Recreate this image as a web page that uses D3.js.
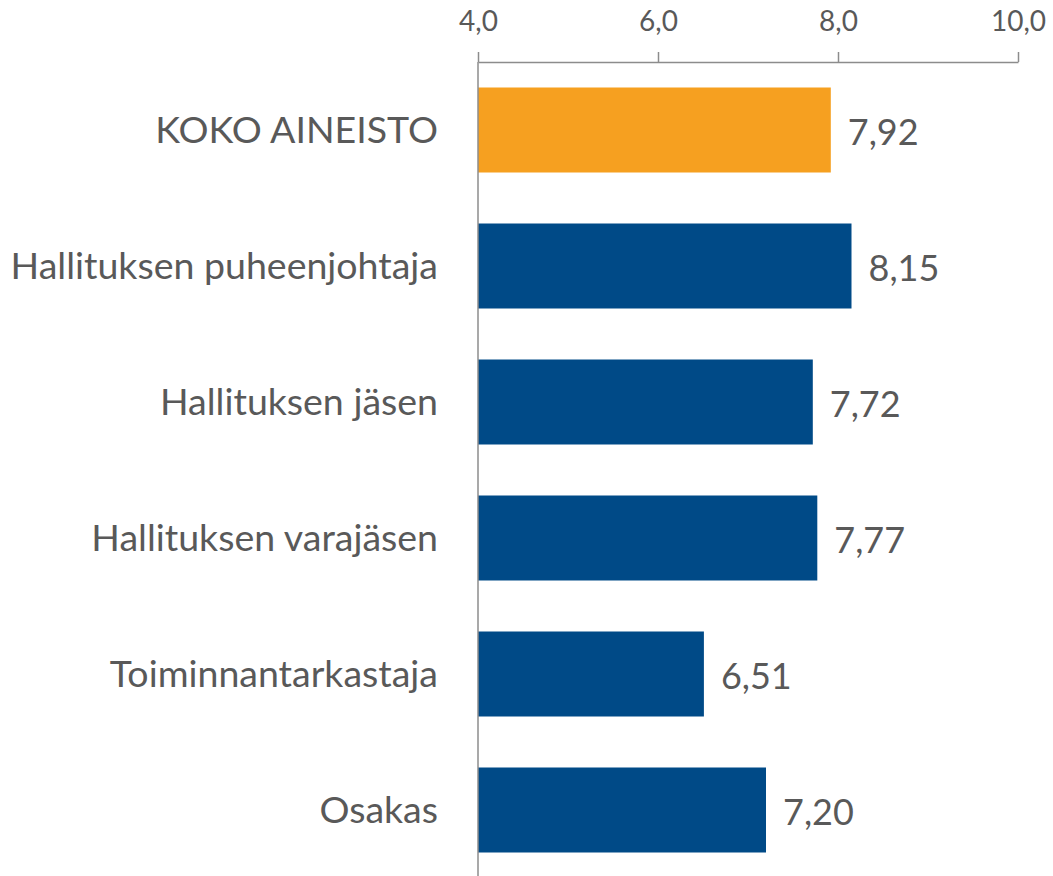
<!DOCTYPE html>
<html>
<head>
<meta charset="utf-8">
<script src="https://cdn.jsdelivr.net/npm/d3@7"></script>
<style>
  body { margin: 0; background: #fff; }
  text { font-family: Lato, "Open Sans", sans-serif; fill: #595959; }
</style>
</head>
<body>
<div id="chart"></div>
<script>
// Data
const categories = [
    "KOKO AINEISTO",
    "Hallituksen puheenjohtaja",
    "Hallituksen jäsen",
    "Hallituksen varajäsen",
    "Toiminnantarkastaja",
    "Osakas"
];
const values = [7.92, 8.15, 7.72, 7.77, 6.51, 7.20];
const xTicks = [4, 6, 8, 10];

const width = 1053;
const height = 876;

const svg = d3.select("#chart")
    .append("svg")
    .attr("width", width)
    .attr("height", height);

const fmt = d => d3.format(".1f")(d).replace(".", ",");
const fmt2 = d => d3.format(".2f")(d).replace(".", ",");

// Scales
const x = d3.scaleLinear()
    .domain([4, 10])
    .range([478, 1018]);

const y = d3.scaleBand()
    .domain(categories)
    .range([62, 878])
    .paddingInner(0.375)
    .paddingOuter(0.1875);

// Top axis
const axis = svg.append("g")
    .attr("transform", `translate(0,${y.range()[0]})`)
    .call(d3.axisTop(x)
        .tickValues(xTicks)
        .tickFormat(fmt)
        .tickSizeInner(10)
        .tickSizeOuter(0)
        .tickPadding(21));

axis.select(".domain").attr("stroke", "#8c8c8c").attr("stroke-width", 1.5);
axis.selectAll(".tick line").attr("stroke", "#8c8c8c").attr("stroke-width", 1.5);
axis.selectAll(".tick text")
    .attr("fill", "#595959")
    .style("font-size", "28px")
    .style("font-family", "Lato, 'Open Sans', sans-serif");

// Bars
svg.selectAll(".bar")
    .data(categories)
    .enter()
    .append("rect")
    .attr("class", "bar")
    .attr("x", x(4))
    .attr("y", d => y(d))
    .attr("width", (d, i) => x(values[i]) - x(4))
    .attr("height", y.bandwidth())
    .attr("fill", (d, i) => i === 0 ? "#f6a020" : "#004a87");

// Vertical axis line
svg.append("line")
    .attr("x1", x(4))
    .attr("x2", x(4))
    .attr("y1", y.range()[0])
    .attr("y2", height)
    .attr("stroke", "#8c8c8c")
    .attr("stroke-width", 1.5);

// Category labels
svg.selectAll(".cat")
    .data(categories)
    .enter()
    .append("text")
    .attr("class", "cat")
    .attr("x", x(4) - 40)
    .attr("y", d => y(d) + y.bandwidth() / 2 + 13)
    .attr("text-anchor", "end")
    .style("font-size", "37.5px")
    .text(d => d);

// Value labels
svg.selectAll(".val")
    .data(categories)
    .enter()
    .append("text")
    .attr("class", "val")
    .attr("x", (d, i) => x(values[i]) + 17)
    .attr("y", d => y(d) + y.bandwidth() / 2 + 14.5)
    .style("font-size", "36px")
    .text((d, i) => fmt2(values[i]));
</script>
</body>
</html>
